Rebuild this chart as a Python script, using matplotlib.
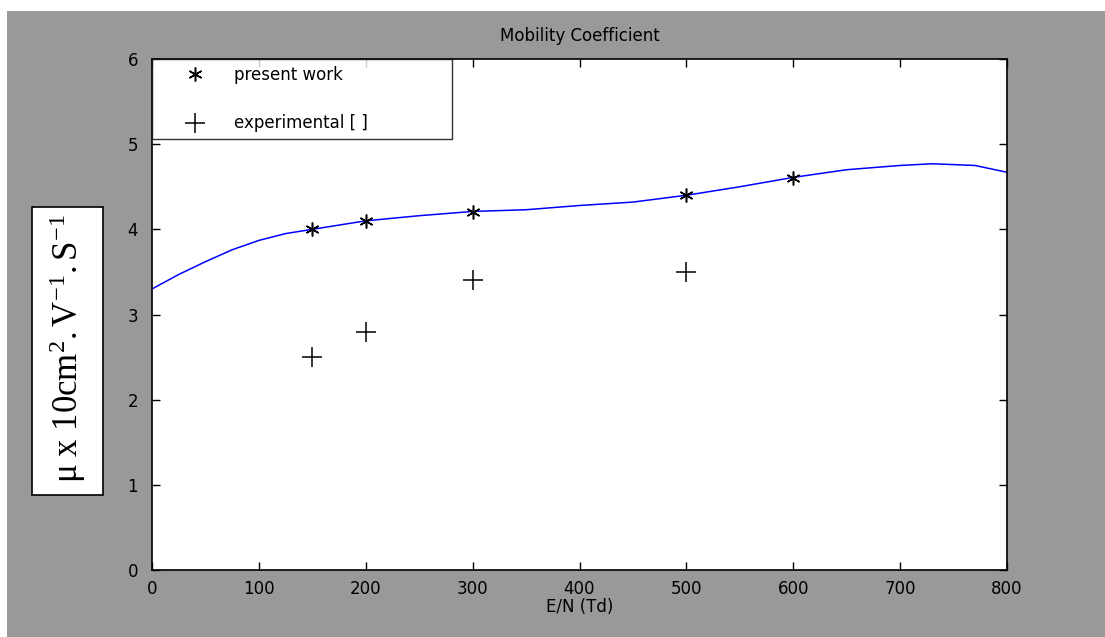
import matplotlib.pyplot as plt
from matplotlib.patches import Rectangle

# Fitted curve
curve_en = [0, 25, 50, 75, 100, 125, 150, 175, 200, 250, 300, 350, 400, 450, 500, 550, 600, 650, 700, 730, 770, 800]
curve_mu = [3.30, 3.47, 3.62, 3.76, 3.87, 3.95, 4.00, 4.05, 4.10, 4.16, 4.21, 4.23, 4.28, 4.32, 4.40, 4.50, 4.61, 4.70, 4.75, 4.77, 4.75, 4.67]

# Present work points
work_en = [150, 200, 300, 500, 600]
work_mu = [4.0, 4.1, 4.2, 4.4, 4.6]

# Experimental points
exp_en = [150, 200, 300, 500]
exp_mu = [2.5, 2.8, 3.4, 3.5]

plt.rcParams["mathtext.fontset"] = "stix"

W, H = 1105, 637
fig = plt.figure(figsize=(W / 100, H / 100), dpi=100, facecolor="white")

# grey panel behind everything
fig.patches.append(Rectangle((7 / W, 0), 1, (H - 11) / H, transform=fig.transFigure,
                             facecolor="#999999", edgecolor="none", zorder=-10))

ax = fig.add_axes([152 / W, 1 - 570 / H, (1007 - 152) / W, (570 - 59) / H])
ax.set_facecolor("white")

ax.plot(curve_en, curve_mu, color="#0000ff", linewidth=1.1)
ax.plot(work_en, work_mu, linestyle="none", marker=(6, 2, 0), markersize=10,
        color="black", markeredgewidth=1.1, label="present work")
ax.plot(exp_en, exp_mu, linestyle="none", marker="+", markersize=14,
        color="black", markeredgewidth=1.1, label="experimental [ ]")

ax.set_xlim(0, 800)
ax.set_ylim(0, 6)
ax.set_xticks(range(0, 801, 100))
ax.set_yticks(range(0, 7))
ax.tick_params(direction="in", length=6, width=1, top=True, right=True,
               labelsize=12)
ax.tick_params(axis="x", pad=7)
ax.tick_params(axis="y", pad=10)
for s in ax.spines.values():
    s.set_linewidth(1.2)
    s.set_color("black")

ax.set_title("Mobility Coefficient", fontsize=12, pad=13)
ax.set_xlabel("E/N (Td)", fontsize=12, labelpad=0)

leg = ax.legend(loc="upper left", bbox_to_anchor=(0, 0.8454, 0.351, 0.1546),
                mode="expand", borderaxespad=0,
                fancybox=False, edgecolor="black", fontsize=12,
                labelspacing=1.85, borderpad=0.4, handlelength=4.3,
                handletextpad=0.25, numpoints=1)
leg.get_frame().set_linewidth(1.0)

# boxed y label
fig.patches.append(Rectangle((32 / W, 1 - 495 / H), (103 - 32) / W, (495 - 207) / H,
                             transform=fig.transFigure, facecolor="white",
                             edgecolor="black", linewidth=1.2, zorder=1))
fig.text(68 / W, 1 - 349 / H, r"$\mathregular{\mu\ x\ 10cm^2.V^{-1}.S^{-1}}$",
         rotation=90, ha="center", va="center", fontsize=25,
         family="Liberation Serif", zorder=2)

fig.savefig("out.png", dpi=100, facecolor=fig.get_facecolor())
